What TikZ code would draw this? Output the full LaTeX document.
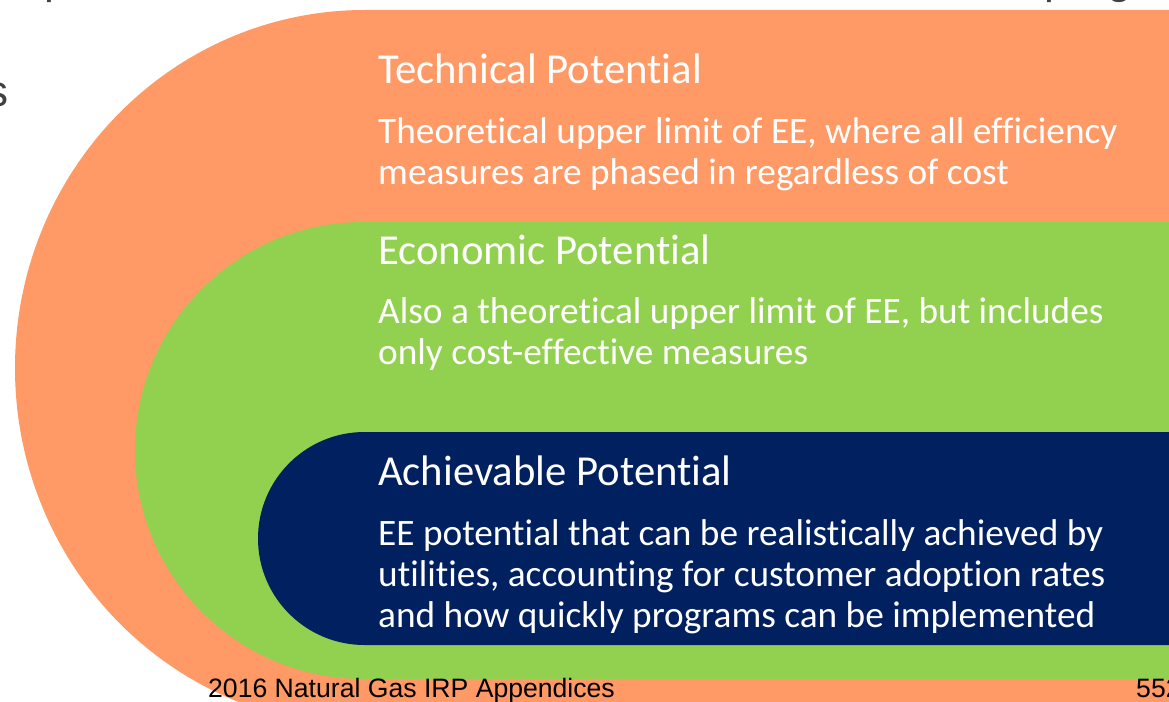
\documentclass[tikz,border=0pt]{standalone}
\usepackage{fontspec}
\setmainfont{Carlito}[Ligatures=NoCommon]
\newfontfamily\arialfont{Liberation Sans}
\usepackage{xcolor}
\definecolor{TechOrange}{RGB}{255,153,102}
\definecolor{EconGreen}{RGB}{146,208,80}
\definecolor{AchNavy}{RGB}{0,32,96}
\definecolor{SlideGray}{RGB}{64,64,64}
\usetikzlibrary{positioning}

\begin{document}
\begin{tikzpicture}[x=1pt, y=-1pt,
    titletxt/.style={anchor=base west, inner sep=0pt, text=white,
                     font=\fontsize{42.7}{48}\selectfont},
    bodytxt/.style={anchor=base west, inner sep=0pt, text=white, align=left,
                    font=\fontsize{37.3}{41}\selectfont},
    slidetxt/.style={anchor=base west, inner sep=0pt, text=SlideGray,
                     font=\arialfont\fontsize{44}{50}\selectfont},
    footer/.style={anchor=base west, inner sep=0pt, text=black,
                   font=\arialfont\fontsize{26.6}{30}\selectfont}
]
    \useasboundingbox (0,0) rectangle (1169,701);
    \clip (0,0) rectangle (1169,701);

    % nested potential bands
    \fill[TechOrange] (1180,10) -- (365,10)
        arc[start angle=270, end angle=90, x radius=350, y radius=358] -- (1180,726) -- cycle;
    \fill[EconGreen] (1180,222) -- (363.5,222)
        arc[start angle=270, end angle=90, radius=228.5] -- (1180,679) -- cycle;
    \fill[AchNavy] (1180,432) -- (364.5,432)
        arc[start angle=270, end angle=90, radius=106.5] -- (1180,645) -- cycle;

    % multi-line texts sit on their last baseline
    \node[titletxt] (tech) at (378,83) {Technical Potential};
    \node[bodytxt] (techtxt) at (378,184.5) {Theoretical upper limit of EE, where all efficiency\\ measures are phased in regardless of cost};

    \node[titletxt] (econ) at (378,264) {Economic Potential};
    \node[bodytxt] (econtxt) at (378,364) {Also a theoretical upper limit of EE, but includes\\ only cost-effective measures};

    \node[titletxt] (ach) at (378,485) {Achievable Potential};
    \node[bodytxt] (achtxt) at (378,627) {EE potential that can be realistically achieved by\\ utilities, accounting for customer adoption rates\\ and how quickly programs can be implemented};

    % cut-off slide text
    \node[slidetxt] (lefts) at (-14,106) {s};
    \node[slidetxt] (leftp) at (44,-6) {p};
    \node[slidetxt] (rightp) at (1044,-6) {prog};

    \node[footer] (foot) at (208,697) {2016 Natural Gas IRP Appendices};
    \node[footer] (page) at (1136,697) {552};
\end{tikzpicture}
\end{document}
